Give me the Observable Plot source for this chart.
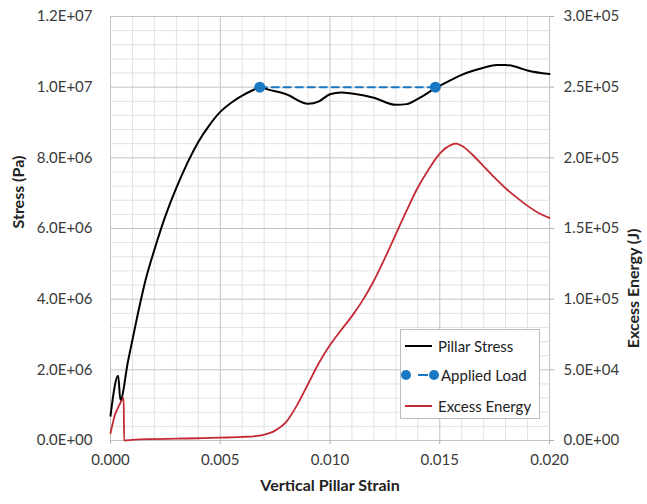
<!DOCTYPE html>
<html>
<head>
<meta charset="utf-8">
<script src="https://cdn.jsdelivr.net/npm/d3@7"></script>
<script src="https://cdn.jsdelivr.net/npm/@observablehq/plot@0.6"></script>
<style>
  body { margin: 0; background: #fff; }
  #wrap { position: relative; width: 647px; height: 504px; font-family: Lato, sans-serif; }
  #legend { position: absolute; left: 400px; top: 329px; width: 140px; height: 90px;
            border: 1px solid #bdbdbd; background: #fff; box-sizing: border-box; }
  .row { position: absolute; left: 0; height: 20px; display: flex; align-items: center;
         font-size: 15px; color: #222; white-space: nowrap; }
  .row svg { display: block; }
</style>
</head>
<body>
<div id="wrap"></div>
<script>
// ---- data ----
const strain = [0, 0.00035, 0.00045, 0.0008, 0.0012, 0.0016, 0.002, 0.0025, 0.003, 0.0035, 0.004,
  0.0045, 0.005, 0.0055, 0.006, 0.0065, 0.0068, 0.0072, 0.008, 0.009, 0.0095, 0.010, 0.0105,
  0.011, 0.012, 0.013, 0.0135, 0.014, 0.0148, 0.0155, 0.016, 0.017, 0.0176, 0.018, 0.0185, 0.019, 0.020];
const stress = [0.7e6, 1.83e6, 1.15e6, 2.25e6, 3.45e6, 4.55e6, 5.4e6, 6.35e6, 7.15e6, 7.85e6, 8.45e6,
  8.92e6, 9.3e6, 9.56e6, 9.76e6, 9.92e6, 1.0e7, 9.93e6, 9.8e6, 9.53e6, 9.6e6, 9.8e6, 9.85e6,
  9.82e6, 9.7e6, 9.5e6, 9.52e6, 9.67e6, 9.97e6, 1.02e7, 1.035e7, 1.055e7, 1.063e7, 1.063e7, 1.057e7, 1.047e7, 1.037e7];

const energyStrain = [0, 0.0002, 0.0004, 0.0006, 0.00062, 0.001, 0.002, 0.003, 0.004, 0.005, 0.006,
  0.0068, 0.0072, 0.0075, 0.008, 0.0085, 0.009, 0.0095, 0.010, 0.0105, 0.011, 0.0115, 0.012,
  0.0125, 0.013, 0.0135, 0.014, 0.0145, 0.015, 0.0155, 0.01575, 0.016, 0.0165, 0.017, 0.0175, 0.018,
  0.0185, 0.019, 0.0195, 0.020];
const energy = [5e3, 1.8e4, 2.5e4, 3.0e4, 0, 500, 1000, 1300, 1600, 2000, 2500,
  3500, 5000, 7000, 1.3e4, 2.5e4, 4.0e4, 5.5e4, 6.75e4, 7.8e4, 8.8e4, 9.95e4, 1.13e5,
  1.29e5, 1.46e5, 1.63e5, 1.79e5, 1.92e5, 2.03e5, 2.09e5, 2.1e5, 2.085e5, 2.02e5, 1.94e5, 1.86e5, 1.785e5,
  1.72e5, 1.66e5, 1.61e5, 1.575e5];

const loadStrain = [0.0068, 0.0148];
const loadStress = [1.0e7, 1.0e7];

const xTicks = [0, 0.005, 0.010, 0.015, 0.020];
const yTicks = [0, 2e6, 4e6, 6e6, 8e6, 1.0e7, 1.2e7];
const y2Ticks = [0, 5e4, 1.0e5, 1.5e5, 2.0e5, 2.5e5, 3.0e5];

const seriesNames = ["Pillar Stress", "Applied Load", "Excess Energy"];
const colors = { stress: "#000000", load: "#1a78c2", energy: "#c42a32" };

// ---- helpers ----
const K = yTicks[yTicks.length - 1] / y2Ticks[y2Ticks.length - 1]; // right-axis mapping onto left scale
function sci(v) {
  if (Math.abs(v) < 1e-9) return "0.0E+00";
  const e = Math.floor(Math.log10(v) + 1e-9);
  const m = v / Math.pow(10, e);
  return m.toFixed(1) + "E+" + String(e).padStart(2, "0");
}
const minorX = d3.range(0, 21).map(i => i * 0.001).filter((d, i) => i % 5 !== 0);
const majorX = xTicks;
const minorY = d3.range(0, 31).map(i => i * 4e5).filter((d, i) => i % 5 !== 0);
const majorY = yTicks;

const chart = Plot.plot({
  width: 647,
  height: 504,
  marginLeft: 110,
  marginRight: 98,
  marginTop: 16,
  marginBottom: 64,
  x: { domain: [0, 0.02] },
  y: { domain: [0, 1.2e7] },
  style: { fontFamily: "Lato, sans-serif", fontSize: "15px", color: "#3a3a3a", background: "#fff" },
  marks: [
    Plot.ruleX(minorX, { stroke: "#e2e2e2", strokeWidth: 1 }),
    Plot.ruleY(minorY, { stroke: "#e2e2e2", strokeWidth: 1 }),
    Plot.ruleX(majorX, { stroke: "#c4c4c4", strokeWidth: 1 }),
    Plot.ruleY(majorY, { stroke: "#c4c4c4", strokeWidth: 1 }),
    Plot.axisX(xTicks, { tickSize: 4, tickPadding: 10, tickFormat: d3.format(".3f"), label: null, stroke: "#b0b0b0" }),
    Plot.axisY(yTicks, { anchor: "left", tickSize: 0, tickPadding: 18, tickFormat: sci, label: null }),
    Plot.axisY(y2Ticks.map(v => v * K), { anchor: "right", tickSize: 4, tickPadding: 10, tickFormat: d => sci(d / K), label: null, stroke: "#b0b0b0" }),
    Plot.line(d3.range(energyStrain.length), {
      x: i => energyStrain[i], y: i => energy[i] * K,
      stroke: colors.energy, strokeWidth: 1.8, curve: "monotone-x"
    }),
    Plot.line(d3.range(strain.length), {
      x: i => strain[i], y: i => stress[i],
      stroke: colors.stress, strokeWidth: 2, curve: "monotone-x"
    }),
    Plot.line(d3.range(loadStrain.length), {
      x: i => loadStrain[i], y: i => loadStress[i],
      stroke: colors.load, strokeWidth: 2, strokeDasharray: "7,5"
    }),
    Plot.dot(d3.range(loadStrain.length), {
      x: i => loadStrain[i], y: i => loadStress[i],
      r: 5.5, fill: colors.load, stroke: "none"
    }),
    Plot.text(["Stress (Pa)"], { text: d => d, frameAnchor: "left", dx: -92, rotate: -90, fontWeight: "bold", fontSize: 16, fill: "#222" }),
    Plot.text(["Excess Energy (J)"], { text: d => d, frameAnchor: "right", dx: 84, rotate: -90, fontWeight: "bold", fontSize: 16, fill: "#222" }),
    Plot.text(["Vertical Pillar Strain"], { text: d => d, frameAnchor: "bottom", dy: 50, fontWeight: "bold", fontSize: 16, fill: "#222" })
  ]
});

const wrap = document.getElementById("wrap");
wrap.appendChild(chart);

// ---- legend (overlay inside plot area) ----
const legend = document.createElement("div");
legend.id = "legend";
const rowsTop = [6, 35, 66];
seriesNames.forEach((name, i) => {
  const row = document.createElement("div");
  row.className = "row";
  row.style.top = rowsTop[i] + "px";
  let sample;
  if (i === 0) {
    sample = `<svg width="37" height="20"><line x1="4" x2="31" y1="10" y2="10" stroke="${colors.stress}" stroke-width="2"/></svg>`;
  } else if (i === 1) {
    sample = `<svg width="40" height="20"><circle cx="5" cy="10" r="5" fill="${colors.load}"/><line x1="17" x2="27" y1="10" y2="10" stroke="${colors.load}" stroke-width="2"/><circle cx="33" cy="10" r="5" fill="${colors.load}"/></svg>`;
  } else {
    sample = `<svg width="37" height="20"><line x1="4" x2="31" y1="10" y2="10" stroke="${colors.energy}" stroke-width="2"/></svg>`;
  }
  row.innerHTML = sample + `<span>${name}</span>`;
  legend.appendChild(row);
});
wrap.appendChild(legend);
</script>
</body>
</html>
